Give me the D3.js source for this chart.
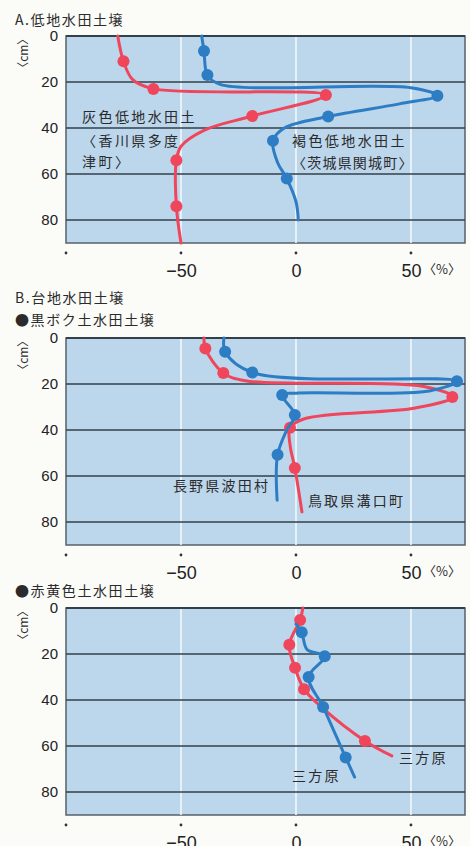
<!DOCTYPE html>
<html>
<head>
<meta charset="utf-8">
<script src="https://cdn.jsdelivr.net/npm/d3@7"></script>
<style>
  body { margin: 0; background: #fbfbf8; }
  svg { display: block; }
  .jp { font-family: "Noto Sans CJK JP", sans-serif; fill: #2b2b2b; }
  .num { font-family: "Liberation Sans", Arial, sans-serif; fill: #222; }
</style>
</head>
<body>
<svg width="470" height="846"></svg>
<script>
// ---- data: [value %, depth cm]; dots = indices of plotted sample points ----
const xTicks = [-100, -50, 0, 50];
const xTickLabels = ["", "−50", "0", "50"];
const depthTicks = [0, 20, 40, 60, 80];

// A. 低地水田土壌
const lowGrey = [[-77.5,0],[-75,11],[-71,19],[-62,23],[13,25.7],[-19,34.8],[-40,41],[-50,48],[-52,54],[-52,74],[-50,90]];
const lowGreyDots = [1,3,4,5,8,9];
const lowBrown = [[-41,0],[-40,6.5],[-38.5,17],[-33,21],[50,22.5],[61.5,26],[45,29.5],[14,35],[-5,40],[-10,45.5],[-8,55],[-4,62],[0,72],[1,80]];
const lowBrownDots = [1,2,5,7,9,11];

// B. 黒ボク土水田土壌
const andoTottori = [[-40,0],[-39.4,4.6],[-31.6,15.2],[-22,18.6],[55,21],[68,25.7],[52,30.4],[4,35],[-2.6,39],[-2.5,47],[-0.5,56.5],[2.6,75.6]];
const andoTottoriDots = [1,2,5,8,10];
const andoNagano = [[-31.3,0],[-30.8,6],[-19,15],[70,18.8],[58,23],[0,24],[-6,24.8],[-0.5,33.5],[-4,40],[-8,50.8],[-8.2,70.5]];
const andoNaganoDots = [1,2,3,6,7,9];

// 赤黄色土水田土壌
const redMikataRed = [[3,0],[1.8,5.2],[-2.9,16],[-0.4,26],[3.5,35.3],[11,43],[30,57.8],[41.7,64.3]];
const redMikataRedDots = [1,2,3,4,6];
const redMikataBlue = [[0,7],[2.5,10.5],[4.8,18],[12.5,21],[5.5,30],[11.8,43],[21.6,65],[25.5,73.5]];
const redMikataBlueDots = [1,3,4,5,6];

const RED = "#f0465c", BLUE = "#2c7dc3";

const svg = d3.select("svg");
const x = d3.scaleLinear().domain([-100, 73.5]).range([66, 465]);

function title(txt, tx, ty) {
  svg.append("text").attr("class", "jp").attr("x", tx).attr("y", ty)
    .attr("font-size", 14).attr("letter-spacing", 1.6).text(txt);
}

function panel(top, series, labels) {
  const y = d3.scaleLinear().domain([0, 90]).range([top, top + 207]);
  const g = svg.append("g");

  g.append("rect").attr("x", x(-100)).attr("y", y(0))
    .attr("width", x(73.5) - x(-100)).attr("height", y(90) - y(0))
    .attr("fill", "#bcd6ec").attr("stroke", "#56616b").attr("stroke-width", 1.5);

  // white vertical grid
  g.selectAll(".vg").data([-50, 0, 50]).enter().append("line")
    .attr("x1", d => x(d)).attr("x2", d => x(d))
    .attr("y1", y(0)).attr("y2", y(90))
    .attr("stroke", "#f2f7fb").attr("stroke-width", 1.6);

  // dark horizontal grid
  g.selectAll(".hg").data([0, 20, 40, 60, 80]).enter().append("line")
    .attr("x1", x(-100)).attr("x2", x(73.5))
    .attr("y1", d => y(d)).attr("y2", d => y(d))
    .attr("stroke", "#33404a").attr("stroke-width", d => d === 0 ? 2 : 1.6);

  // depth axis
  const ya = g.append("g").attr("transform", `translate(${x(-100) - 6},0)`)
    .call(d3.axisLeft(y).tickValues(depthTicks).tickSize(0).tickPadding(2));
  ya.select(".domain").remove();
  ya.selectAll("text").attr("class", "num").attr("font-size", 15);

  svg.append("text").attr("class", "jp").attr("font-size", 12)
    .attr("transform", `translate(25,${y(7.5)}) rotate(-90)`)
    .attr("text-anchor", "middle").attr("dominant-baseline", "middle")
    .text("〈cm〉");

  // value axis: small dots + labels
  g.selectAll(".td").data(xTicks).enter().append("circle")
    .attr("cx", d => x(d)).attr("cy", y(90) + 10).attr("r", 1.4).attr("fill", "#333");
  const xa = g.append("g").attr("transform", `translate(0,${y(90) + 18})`)
    .call(d3.axisBottom(x).tickValues(xTicks).tickSize(0)
      .tickFormat((d, i) => xTickLabels[i]));
  xa.select(".domain").remove();
  xa.selectAll("text").attr("class", "num").attr("font-size", 18);
  g.append("text").attr("class", "jp").attr("x", x(63.5)).attr("y", y(90) + 31)
    .attr("font-size", 13).attr("text-anchor", "middle").text("〈%〉");

  const line = d3.line().x(d => x(d[0])).y(d => y(d[1]))
    .curve(d3.curveCatmullRom.alpha(0.5));

  series.forEach(s => {
    g.append("path").attr("d", line(s.data)).attr("fill", "none")
      .attr("stroke", s.color).attr("stroke-width", 3)
      .attr("stroke-linejoin", "round").attr("stroke-linecap", "round");
    g.selectAll(null).data(s.dots.map(i => s.data[i])).enter().append("circle")
      .attr("cx", d => x(d[0])).attr("cy", d => y(d[1])).attr("r", 6)
      .attr("fill", s.color);
  });

  labels.forEach(l => {
    g.append("text").attr("class", "jp").attr("x", x(l.v)).attr("y", y(l.d))
      .attr("font-size", 14).attr("letter-spacing", l.sp)
      .attr("dominant-baseline", "middle").text(l.t);
  });
}

title("A.低地水田土壌", 15, 25);
panel(36,
  [{data: lowGrey, dots: lowGreyDots, color: RED},
   {data: lowBrown, dots: lowBrownDots, color: BLUE}],
  [{t: "灰色低地水田土", v: -93, d: 35.7, sp: 2.4},
   {t: "〈香川県多度", v: -93, d: 46, sp: 2.4},
   {t: "津町〉", v: -93, d: 55.2, sp: 2.4},
   {t: "褐色低地水田土", v: -1.7, d: 46, sp: 2.4},
   {t: "〈茨城県関城町〉", v: -1.7, d: 55.6, sp: 1.2}]);

title("B.台地水田土壌", 15, 303);
title("●黒ボク土水田土壌", 15, 325);
panel(338,
  [{data: andoTottori, dots: andoTottoriDots, color: RED},
   {data: andoNagano, dots: andoNaganoDots, color: BLUE}],
  [{t: "長野県波田村", v: -53.5, d: 64.8, sp: 2.2},
   {t: "鳥取県溝口町", v: 5.2, d: 71.3, sp: 2.2}]);

title("●赤黄色土水田土壌", 15, 596);
panel(608,
  [{data: redMikataRed, dots: redMikataRedDots, color: RED},
   {data: redMikataBlue, dots: redMikataBlueDots, color: BLUE}],
  [{t: "三方原", v: 44.8, d: 65.7, sp: 2.2},
   {t: "三方原", v: -1.7, d: 73.5, sp: 2.2}]);
</script>
</body>
</html>
